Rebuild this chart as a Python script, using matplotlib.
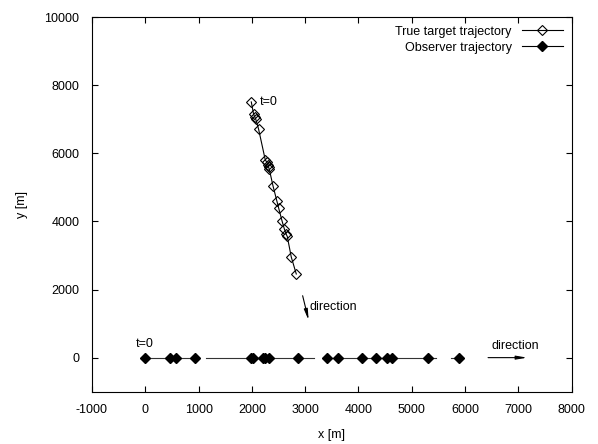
import numpy as np
import matplotlib.pyplot as plt

plt.rcParams['font.family'] = ['Liberation Sans', 'DejaVu Sans']
plt.rcParams['font.size'] = 9
plt.rcParams['axes.unicode_minus'] = False

# target positions (m)
target_x = [1989, 2032, 2051, 2069, 2126, 2251, 2276, 2302, 2313, 2326,
            2396, 2471, 2501, 2565, 2608, 2640, 2664, 2739, 2833]
target_y = [7507, 7147, 7076, 7018, 6707, 5806, 5748, 5660, 5592, 5534,
            5044, 4584, 4399, 4018, 3783, 3636, 3557, 2953, 2455]

# observer positions (m), moving along y = 0
obs_x = [0, 456, 568, 925, 1989, 2026, 2200, 2251, 2313, 2870,
         3409, 3621, 4071, 4328, 4540, 4628, 5303, 5891]
obs_y = [0] * len(obs_x)

# pieces of the observer line (start, end)
obs_seg_start = [0, 1140, 3360, 5740]
obs_seg_end = [925, 3165, 5460, 5970]

fig = plt.figure(figsize=(5.98, 4.44), dpi=100)
ax = fig.add_axes([0.1538, 0.1178, 0.8022, 0.8439])

ax.plot(target_x, target_y, color='black', lw=0.8, marker='D', ms=4.8,
        mfc='none', mec='black', mew=0.8, label='True target trajectory')

for a, b in zip(obs_seg_start, obs_seg_end):
    ax.plot([a, b], [0, 0], color='#333333', lw=0.8)
ax.plot(obs_x, obs_y, ls='none', marker='D', ms=4.8, color='black')
# legend handle for observer
ax.plot([], [], color='black', lw=0.8, marker='D', ms=4.8, label='Observer trajectory')

ax.text(2150, 7500, 't=0', ha='left', va='center')
ax.text(-170, 410, 't=0', ha='left', va='center')

arrow = dict(arrowstyle='-|>,head_length=0.7,head_width=0.12', color='black', lw=0.8)
ax.annotate('', xy=(3077, 1018), xytext=(2940, 1897), arrowprops=arrow)
ax.text(3090, 1490, 'direction', ha='left', va='center')
ax.annotate('', xy=(7217, 0), xytext=(6379, 0), arrowprops=arrow)
ax.text(6490, 180, 'direction', ha='left', va='bottom')

ax.set_xlim(-1000, 8000)
ax.set_ylim(-1000, 10000)
ax.set_xticks(np.arange(-1000, 8001, 1000))
ax.set_yticks(np.arange(0, 10001, 2000))
ax.tick_params(direction='in', top=True, right=True, length=4, width=0.8, pad=9)
ax.set_xlabel('x [m]', labelpad=9)
ax.set_ylabel('y [m]', labelpad=12)

ax.legend(loc='upper right', frameon=False, markerfirst=False,
          handlelength=3.3, borderaxespad=0.3, labelspacing=0.3)

fig.savefig('out.png', dpi=100)
